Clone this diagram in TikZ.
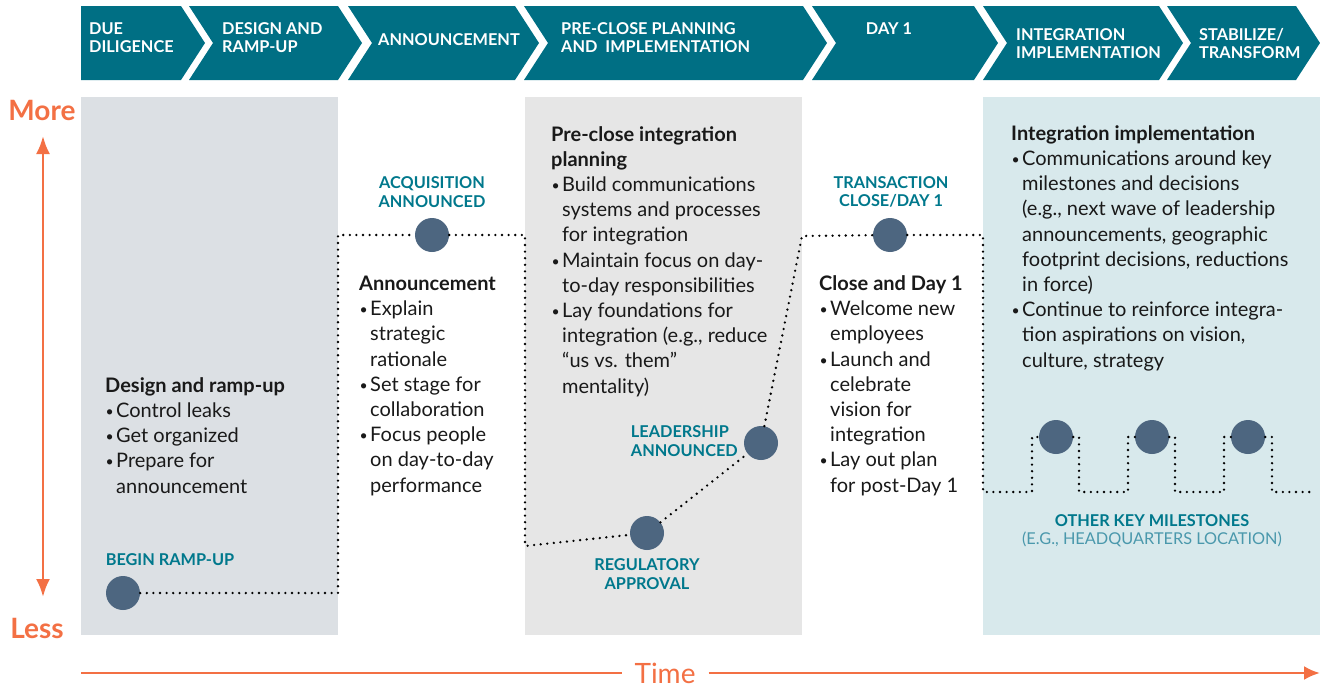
\documentclass[tikz,border=0pt]{standalone}
\usepackage{fontspec}
\setmainfont{Lato}
\usetikzlibrary{arrows.meta}

\definecolor{hdteal}{HTML}{006F84}
\definecolor{lbteal}{HTML}{00788C}
\definecolor{ltteal}{HTML}{4A98AC}
\definecolor{dotblue}{HTML}{4D6680}
\definecolor{rampgray}{HTML}{DCE0E4}
\definecolor{closegray}{HTML}{E6E6E6}
\definecolor{integblue}{HTML}{D8E9EC}
\definecolor{axisorange}{HTML}{F37044}

\newcommand{\bul}{\makebox[11pt][l]{\hspace{0.5pt}\raisebox{1pt}{\scalebox{0.7}{\textbullet}}}}
\newcommand{\ind}{\hspace*{11pt}}

\begin{document}
\begin{tikzpicture}[x=1pt,y=-1pt,
	chevron/.style={fill=hdteal},
	hdtext/.style={text=white,font=\fontsize{16.3}{18}\selectfont\bfseries,align=left,inner sep=0pt,anchor=west},
	body/.style={text=black!90,font=\fontsize{20}{25.2}\selectfont,align=left,inner sep=0pt,anchor=base west},
	milestone/.style={circle,fill=dotblue,minimum size=34pt,inner sep=0pt},
	mslabel/.style={text=lbteal,font=\fontsize{16.3}{18.5}\selectfont\bfseries,align=center,inner sep=0pt},
	trail/.style={line width=2.6pt,dash pattern=on 0pt off 6.6pt,line cap=round},
	axis/.style={draw=axisorange,line width=2.6pt},
	axislabel/.style={text=axisorange,font=\fontsize{28}{30}\selectfont\bfseries,inner sep=0pt}]
	\useasboundingbox (0,0) rectangle (1320,688);
	
	% Phase chevrons
	\fill[chevron] (81,6) -- (181,6) -- (205,43) -- (181,80) -- (81,80) -- cycle;
	\fill[chevron] (189,6) -- (338,6) -- (362,43) -- (338,80) -- (189,80) -- (213,43) -- cycle;
	\fill[chevron] (348,6) -- (515,6) -- (539,43) -- (515,80) -- (348,80) -- (372,43) -- cycle;
	\fill[chevron] (524,6) -- (803,6) -- (827,43) -- (803,80) -- (524,80) -- (548,43) -- cycle;
	\fill[chevron] (812,6) -- (974,6) -- (998,43) -- (974,80) -- (812,80) -- (836,43) -- cycle;
	\fill[chevron] (983,6) -- (1159,6) -- (1183,43) -- (1159,80) -- (983,80) -- (1007,43) -- cycle;
	\fill[chevron] (1167,6) -- (1296,6) -- (1320,43) -- (1296,80) -- (1167,80) -- (1191,43) -- cycle;
	
	% Phase titles
	\node[hdtext] (dd) at (89,38) {DUE\\DILIGENCE};
	\node[hdtext] (dr) at (222,38) {DESIGN AND\\RAMP-UP};
	\node[hdtext] (an) at (378,40) {ANNOUNCEMENT};
	\node[hdtext] (pc) at (561,38) {PRE-CLOSE PLANNING\\AND\ \ IMPLEMENTATION};
	\node[hdtext,anchor=center] (d1) at (889,29) {DAY 1};
	\node[hdtext] (ii) at (1016,44) {INTEGRATION\\IMPLEMENTATION};
	\node[hdtext] (st) at (1199,44) {STABILIZE/\\TRANSFORM};
	
	% Shaded phases
	\fill[rampgray] (81,97) rectangle (338,635);
	\fill[closegray] (525,97) rectangle (802,635);
	\fill[integblue] (983,97) rectangle (1320,635);
	
	% Vertical axis
	\node[axislabel] (more) at (42,110) {More};
	\node[axislabel] (less) at (37,628) {Less};
	\coordinate (top) at (43,136);
	\coordinate (bottom) at (43,597);
	\draw[axis,{Latex[length=18pt,width=14pt]}-{Latex[length=18pt,width=14pt]}] (top) -- (bottom);
	
	% Time axis
	\node[axislabel,font=\fontsize{28}{30}\selectfont] (time) at (665,673) {Time};
	\coordinate (tstart) at (81,673);
	\coordinate (tend) at (1320,673);
	\draw[axis] (tstart) -- ([xshift=-12pt]time.west);
	\draw[axis,-{Latex[length=16pt,width=14pt]}] ([xshift=13pt]time.east) -- (tend);
	
	% Milestones
	\node[milestone] (ramp) at (123,593) {};
	\node[milestone] (acq) at (432,235) {};
	\node[milestone] (reg) at (647,533) {};
	\node[milestone] (lead) at (761,443) {};
	\node[milestone] (close) at (890,235) {};
	\node[milestone] (m1) at (1056,437) {};
	\node[milestone] (m2) at (1152,437) {};
	\node[milestone] (m3) at (1248,437) {};
	
	% Dotted trail through the milestones
	\draw[trail] (ramp) -- (338,593) -- (338,235) -- (acq) -- (525,235) -- (525,546) -- (reg) -- (lead) -- (802,236) -- (close) -- (983,235) -- (983,492) -- (1032,492) -- (1032,437) -- (m1) -- (1079,437) -- (1079,492) -- (1128,492) -- (1128,437) -- (m2) -- (1175,437) -- (1175,492) -- (1224,492) -- (1224,437) -- (m3) -- (1272,437) -- (1272,492) -- (1314,492);
	
	% Milestone labels
	\node[mslabel] (lbramp) at (170,560) {BEGIN RAMP-UP};
	\node[mslabel] (lbacq) at (432,192) {ACQUISITION\\ANNOUNCED};
	\node[mslabel] (lbclose) at (891,192) {TRANSACTION\\CLOSE/DAY 1};
	\node[mslabel,align=left,anchor=east] (lblead) at (738,441) {LEADERSHIP\\ANNOUNCED};
	\node[mslabel] (lbreg) at (647,574) {REGULATORY\\APPROVAL};
	\node[mslabel] (lbother) at (1152,521) {OTHER KEY MILESTONES};
	\node[mslabel,text=ltteal,font=\fontsize{16.3}{18.5}\selectfont] (lbhq) at (1152,539) {(E.G., HEADQUARTERS LOCATION)};
	
	% Phase activities (anchored at the baseline of the last line)
	\node[body] (txramp) at (105,493) {\textbf{Design and ramp-up}\\
		\bul Control leaks\\
		\bul Get organized\\
		\bul Prepare for\\
		\ind announcement};
	\node[body] (txann) at (359,492) {\textbf{Announcement}\\
		\bul Explain\\
		\ind strategic\\
		\ind rationale\\
		\bul Set stage for\\
		\ind collaboration\\
		\bul Focus people\\
		\ind on day-to-day\\
		\ind performance};
	\node[body] (txpre) at (551,393) {\textbf{Pre-close integration}\\
		\textbf{planning}\\
		\bul Build communications\\
		\ind systems and processes\\
		\ind for integration\\
		\bul Maintain focus on day-\\
		\ind to-day responsibilities\\
		\bul Lay foundations for\\
		\ind integration (e.g., reduce\\
		\ind “us vs. them”\\
		\ind mentality)};
	\node[body] (txclose) at (819,492) {\textbf{Close and Day 1}\\
		\bul Welcome new\\
		\ind employees\\
		\bul Launch and\\
		\ind celebrate\\
		\ind vision for\\
		\ind integration\\
		\bul Lay out plan\\
		\ind for post-Day 1};
	\node[body] (txint) at (1011,367) {\textbf{Integration implementation}\\
		\bul Communications around key\\
		\ind milestones and decisions\\
		\ind (e.g., next wave of leadership\\
		\ind announcements, geographic\\
		\ind footprint decisions, reductions\\
		\ind in force)\\
		\bul Continue to reinforce integra-\\
		\ind tion aspirations on vision,\\
		\ind culture, strategy};
	
\end{tikzpicture}
\end{document}
